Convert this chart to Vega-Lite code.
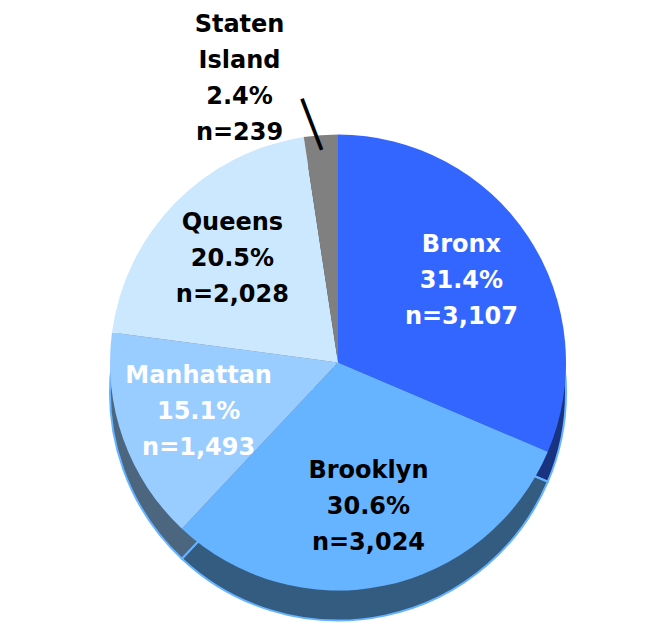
{
  "$schema": "https://vega.github.io/schema/vega-lite/v6.json",
  "width": 648,
  "height": 525,
  "autosize": {"type": "none"},
  "padding": {"top": 100, "left": 14, "right": 0, "bottom": 0},
  "background": "white",
  "view": {"stroke": null},
  "data": {"values": [
    {"idx": 1, "name": "Bronx", "pct": 31.4, "label": ["Bronx", "31.4%", "n=3,107"]},
    {"idx": 2, "name": "Brooklyn", "pct": 30.6, "label": ["Brooklyn", "30.6%", "n=3,024"]},
    {"idx": 3, "name": "Manhattan", "pct": 15.1, "label": ["Manhattan", "15.1%", "n=1,493"]},
    {"idx": 4, "name": "Queens", "pct": 20.5, "label": ["Queens", "20.5%", "n=2,028"]},
    {"idx": 5, "name": "Staten Island", "pct": 2.4, "label": ["Staten", "Island", "2.4%", "n=239"]}
  ]},
  "encoding": {
    "theta": {"field": "pct", "type": "quantitative", "stack": true},
    "order": {"field": "idx", "type": "quantitative"}
  },
  "layer": [
    {
      "mark": {"type": "arc", "radius": 228, "yOffset": 30, "stroke": "#66B3FF", "strokeWidth": 2},
      "encoding": {
        "color": {"field": "name", "type": "nominal", "legend": null,
          "scale": {"domain": ["Bronx", "Brooklyn", "Manhattan", "Queens", "Staten Island"],
                    "range": ["#1A3380", "#335C80", "#4D6680", "#4D6680", "#404040"]}}
      }
    },
    {
      "mark": {"type": "arc", "radius": 228},
      "encoding": {
        "color": {"field": "name", "type": "nominal", "legend": null,
          "scale": {"domain": ["Bronx", "Brooklyn", "Manhattan", "Queens", "Staten Island"],
                    "range": ["#3366FF", "#66B3FF", "#99CCFF", "#CCE8FF", "#808080"]}}
      }
    },
    {
      "mark": {"type": "text", "radius": 148, "dy": -36, "font": "DejaVu Sans", "fontWeight": "bold", "fontSize": 24, "lineHeight": 36, "align": "center", "baseline": "middle"},
      "encoding": {
        "text": {"field": "label"},
        "color": {"condition": {"test": "datum.name === 'Bronx' || datum.name === 'Manhattan'", "value": "white"}, "value": "black"},
        "opacity": {"condition": {"test": "datum.name === 'Staten Island'", "value": 0}, "value": 1}
      }
    },
    {
      "mark": {"type": "text", "radius": 338, "dx": -73, "font": "DejaVu Sans", "fontWeight": "bold", "fontSize": 24, "lineHeight": 36, "align": "center", "baseline": "middle", "color": "black"},
      "encoding": {
        "text": {"field": "label"},
        "opacity": {"condition": {"test": "datum.name === 'Staten Island'", "value": 1}, "value": 0}
      }
    },
    {
      "mark": {"type": "text", "radius": 240, "dx": -8, "font": "DejaVu Sans", "fontSize": 46, "angle": 339, "align": "center", "baseline": "middle", "color": "black", "text": "│"},
      "encoding": {
        "opacity": {"condition": {"test": "datum.name === 'Staten Island'", "value": 1}, "value": 0}
      }
    }
  ],
  "resolve": {"scale": {"color": "independent"}}
}
